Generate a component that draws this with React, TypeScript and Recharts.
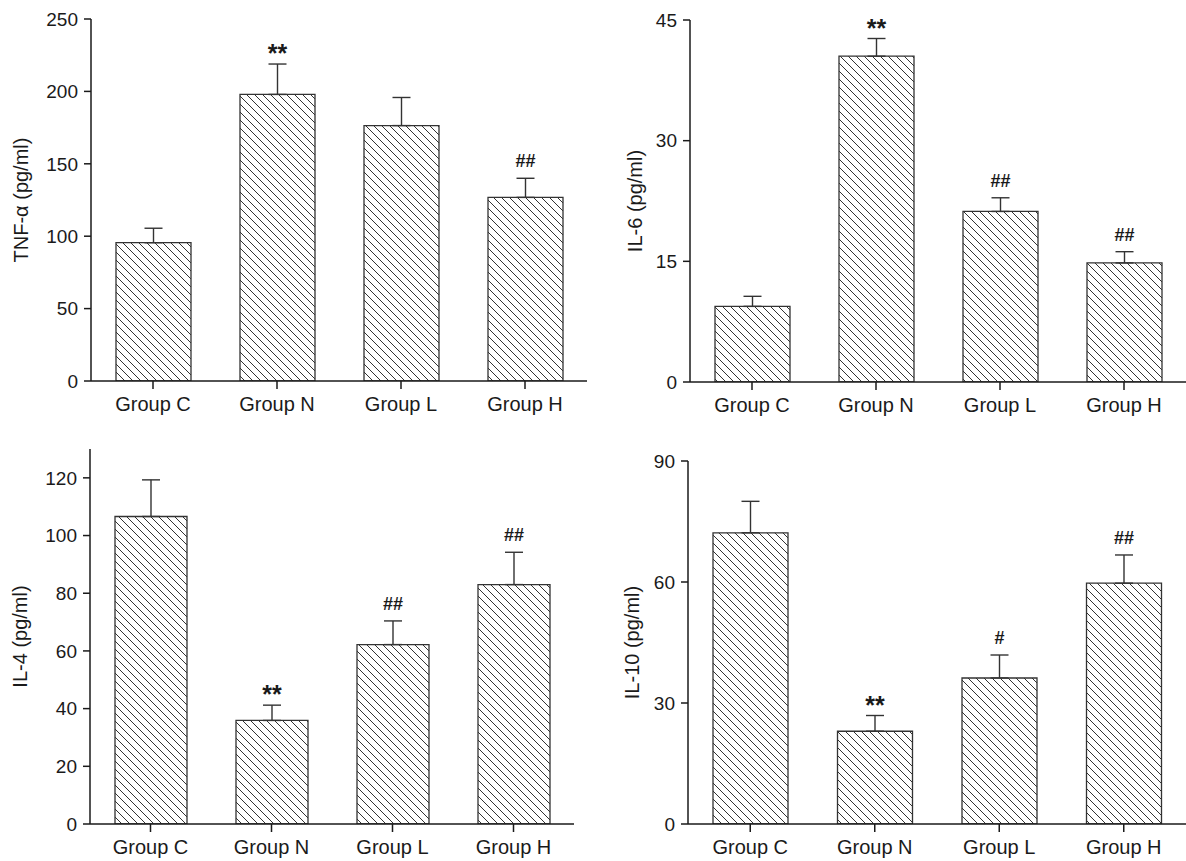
import React from 'react';
import { BarChart, Bar, XAxis, YAxis, ErrorBar } from 'recharts';

const groups = ['Group C', 'Group N', 'Group L', 'Group H'];

const tnfMean = [95.5, 197.9, 176.4, 126.8];
const tnfErr = [10, 21, 19.4, 13.2];
const tnfSig = ['', '**', '', '##'];
const tnfTicks = [0, 50, 100, 150, 200, 250];

const il6Mean = [9.4, 40.5, 21.2, 14.8];
const il6Err = [1.25, 2.2, 1.7, 1.4];
const il6Sig = ['', '**', '##', '##'];
const il6Ticks = [0, 15, 30, 45];

const il4Mean = [106.6, 35.9, 62.2, 83.0];
const il4Err = [12.7, 5.3, 8.2, 11.2];
const il4Sig = ['', '**', '##', '##'];
const il4Ticks = [0, 20, 40, 60, 80, 100, 120];

const il10Mean = [72.2, 23.0, 36.2, 59.7];
const il10Err = [7.8, 3.9, 5.7, 7.0];
const il10Sig = ['', '**', '#', '##'];
const il10Ticks = [0, 30, 60, 90];

const FONT = '"Liberation Sans", Arial, Helvetica, sans-serif';
const INK = '#1a1a1a';

function build(means: number[], errs: number[], sigs: string[]) {
  return groups.map((g, i) => ({
    name: g,
    value: means[i],
    err: errs[i],
    range: [0, errs[i]],
    sig: sigs[i],
  }));
}

const YLabel = (props: any) => {
  const vb = props.viewBox || {};
  const cy = vb.y !== undefined ? vb.y + vb.height / 2 : props.cy;
  return (
    <text
      x={props.lx}
      y={cy}
      transform={`rotate(-90 ${props.lx} ${cy})`}
      textAnchor="middle"
      dominantBaseline="central"
      fontSize={20}
      fontFamily={FONT}
      fill={INK}
    >
      {props.text}
    </text>
  );
};

type PanelProps = {
  id: string;
  left: number;
  top: number;
  width: number;
  height: number;
  margin: { top: number; right: number; bottom: number; left: number };
  yWidth: number;
  domain: [number, number];
  ticks: number[];
  data: any[];
  label: string;
  labelX: number;
  barSize: number;
};

const Panel = (p: PanelProps) => {
  const sigLabel = (props: any) => {
    const { x, y, width, height, index } = props;
    const d = p.data[index];
    if (!d || !d.sig) return null;
    const errTop = Number(y) - (d.err * Number(height)) / d.value;
    const isStar = d.sig.includes('*');
    return (
      <text
        x={Number(x) + Number(width) / 2}
        y={errTop - (isStar ? 2 : 11)}
        textAnchor="middle"
        fontSize={isStar ? 25 : 18}
        fontWeight="bold"
        fontFamily={FONT}
        fill={INK}
      >
        {d.sig}
      </text>
    );
  };
  return (
    <div style={{ position: 'absolute', left: p.left, top: p.top }}>
      <BarChart width={p.width} height={p.height} data={p.data} margin={p.margin}>
        <defs>
          <pattern id={p.id} patternUnits="userSpaceOnUse" width={8} height={8}>
            <rect width={8} height={8} fill="#fff" />
            <path d="M0,0 L8,8 M-2,6 L2,10 M6,-2 L10,2" stroke="#333" strokeWidth={1} />
          </pattern>
        </defs>
        <XAxis
          dataKey="name"
          height={30}
          tickSize={8}
          tickMargin={8}
          axisLine={{ stroke: INK, strokeWidth: 1.5 }}
          tickLine={{ stroke: INK, strokeWidth: 1.5 }}
          tick={{ fontSize: 20, fontFamily: FONT, fill: INK }}
          interval={0}
        />
        <YAxis
          width={p.yWidth}
          domain={p.domain}
          ticks={p.ticks}
          type="number"
          allowDataOverflow
          tickSize={7}
          tickMargin={6}
          axisLine={{ stroke: INK, strokeWidth: 1.5 }}
          tickLine={{ stroke: INK, strokeWidth: 1.5 }}
          tick={{ fontSize: 19, fontFamily: FONT, fill: INK }}
          label={<YLabel text={p.label} lx={p.labelX} />}
        />
        <Bar
          dataKey="value"
          barSize={p.barSize}
          fill={`url(#${p.id})`}
          stroke="#333"
          strokeWidth={1.3}
          isAnimationActive={false}
          label={sigLabel}
        >
          <ErrorBar dataKey="range" width={9} stroke="#333" strokeWidth={1.4} direction="y" />
        </Bar>
      </BarChart>
    </div>
  );
};

export default function App() {
  return (
    <div style={{ position: 'absolute', left: 0, top: 0, width: 1186, height: 861, background: '#fff' }}>
      <Panel
        id="hatch1"
        left={0}
        top={0}
        width={600}
        height={430}
        margin={{ top: 19, right: 13, bottom: 19, left: 0 }}
        yWidth={91}
        domain={[0, 250]}
        ticks={tnfTicks}
        data={build(tnfMean, tnfErr, tnfSig)}
        label="TNF-α (pg/ml)"
        labelX={21}
        barSize={75}
      />
      <Panel
        id="hatch2"
        left={600}
        top={0}
        width={586}
        height={430}
        margin={{ top: 20, right: 0, bottom: 18, left: 0 }}
        yWidth={90}
        domain={[0, 45]}
        ticks={il6Ticks}
        data={build(il6Mean, il6Err, il6Sig)}
        label="IL-6 (pg/ml)"
        labelX={35}
        barSize={75}
      />
      <Panel
        id="hatch3"
        left={0}
        top={430}
        width={600}
        height={431}
        margin={{ top: 19, right: 26, bottom: 7, left: 0 }}
        yWidth={90}
        domain={[0, 130]}
        ticks={il4Ticks}
        data={build(il4Mean, il4Err, il4Sig)}
        label="IL-4 (pg/ml)"
        labelX={20}
        barSize={72}
      />
      <Panel
        id="hatch4"
        left={600}
        top={430}
        width={586}
        height={431}
        margin={{ top: 31, right: 0, bottom: 7, left: 0 }}
        yWidth={88}
        domain={[0, 90]}
        ticks={il10Ticks}
        data={build(il10Mean, il10Err, il10Sig)}
        label="IL-10 (pg/ml)"
        labelX={32}
        barSize={75}
      />
    </div>
  );
}
